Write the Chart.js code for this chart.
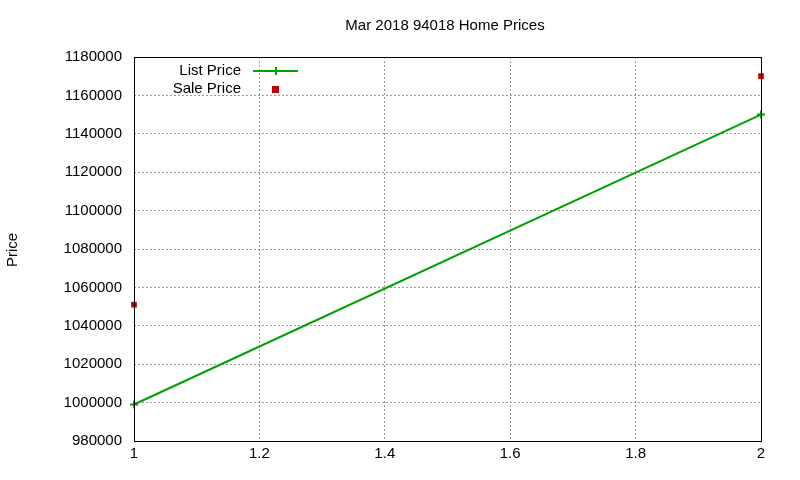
<!DOCTYPE html>
<html>
<head>
<script src="https://cdn.jsdelivr.net/npm/chart.js@4"></script>
<style>body{margin:0;background:#fff}</style>
</head>
<body>
<canvas id="c" width="800" height="480"></canvas>
<script>
const xValues = [1, 2];
const listPrice = [999000, 1150000];
const salePrice = [1051000, 1170000];
const yMin = 980000, yMax = 1180000, yStep = 20000;

const font = "Liberation Sans, Arial, sans-serif";

const overlay = {
  id: "overlay",
  afterDraw(chart) {
    const ctx = chart.ctx;
    const a = chart.chartArea;
    ctx.save();
    ctx.strokeStyle = "#000";
    ctx.lineWidth = 1;
    ctx.strokeRect(a.left + 0.5, a.top + 0.5, a.right - a.left, a.bottom - a.top);
    ctx.fillStyle = "#000";
    ctx.font = "15px " + font;
    ctx.textAlign = "center";
    ctx.textBaseline = "middle";
    ctx.fillText("Mar 2018 94018 Home Prices", 445, 26);
    ctx.save();
    ctx.translate(13, 250);
    ctx.rotate(-Math.PI / 2);
    ctx.fillText("Price", 0, 0);
    ctx.restore();
    // legend
    ctx.textAlign = "right";
    ctx.fillText("List Price", 241, 71);
    ctx.fillText("Sale Price", 241, 89);
    ctx.strokeStyle = "#00a000";
    ctx.lineWidth = 2;
    ctx.beginPath();
    ctx.moveTo(253, 71); ctx.lineTo(298, 71);
    ctx.moveTo(276, 67); ctx.lineTo(276, 75);
    ctx.moveTo(272, 71); ctx.lineTo(280, 71);
    ctx.stroke();
    ctx.fillStyle = "#c00000";
    ctx.fillRect(272, 86, 7, 7);
    ctx.restore();
  }
};

new Chart(document.getElementById("c"), {
  type: "scatter",
  data: {
    datasets: [
      {
        label: "List Price",
        data: xValues.map((x, i) => ({ x, y: listPrice[i] })),
        showLine: true,
        clip: false,
        borderColor: "#00a000",
        backgroundColor: "#00a000",
        borderWidth: 2,
        pointStyle: "cross",
        pointRadius: 4,
        pointBorderWidth: 2
      },
      {
        label: "Sale Price",
        data: xValues.map((x, i) => ({ x, y: salePrice[i] })),
        showLine: false,
        clip: false,
        borderColor: "#c00000",
        backgroundColor: "#c00000",
        pointStyle: "rect",
        pointRadius: 4,
        pointBorderWidth: 0
      }
    ]
  },
  options: {
    responsive: false,
    animation: false,
    layout: { padding: { top: 57, right: 39, left: 0, bottom: 0 } },
    plugins: { legend: { display: false }, tooltip: { enabled: false } },
    scales: {
      x: {
        type: "linear", min: 1, max: 2,
        ticks: {
          stepSize: 0.2, color: "#000", font: { family: font, size: 15 }, padding: 4,
          callback: v => String(Math.round(v * 10) / 10)
        },
        grid: { color: "#999", drawTicks: false },
        border: { display: false, dash: [2, 2] },
        afterFit(s) { s.height = 39; }
      },
      y: {
        min: yMin, max: yMax,
        ticks: {
          stepSize: yStep, color: "#000", font: { family: font, size: 15 }, padding: 12,
          callback: v => String(v)
        },
        grid: { color: "#999", drawTicks: false },
        border: { display: false, dash: [2, 2] },
        afterFit(s) { s.width = 134; }
      }
    }
  },
  plugins: [overlay]
});
</script>
</body>
</html>
